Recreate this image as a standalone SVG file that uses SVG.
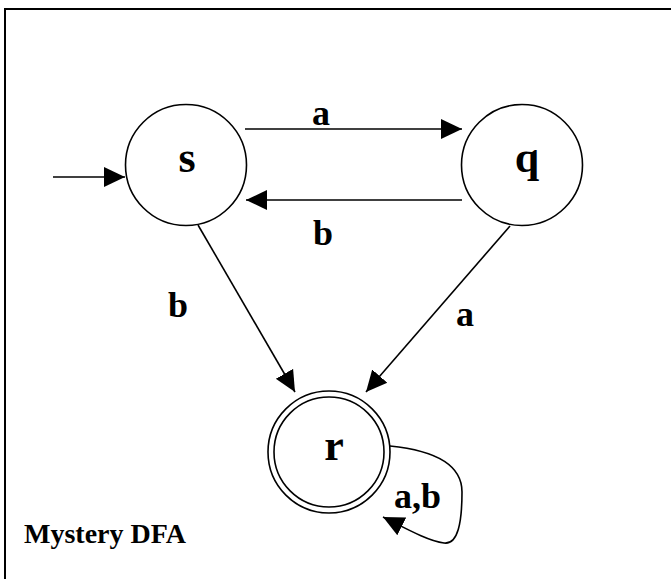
<svg xmlns="http://www.w3.org/2000/svg" width="671" height="579" viewBox="0 0 671 579">
<style>
.st{fill:#fff;stroke:#000;stroke-width:1.6}
.ln{fill:none;stroke:#000;stroke-width:1.6}
.lbl{font-family:"Liberation Serif","Times New Roman",serif;font-weight:bold;fill:#000}
.sl{font-size:44px;text-anchor:middle}
.el{font-size:36px;text-anchor:middle}
</style>
<defs>
<marker id="ah" markerUnits="userSpaceOnUse" markerWidth="22" markerHeight="22" viewBox="0 0 22 22" refX="21" refY="11" orient="auto">
<path d="M0,1 L21,11 L0,21 Z" fill="#000"/>
</marker>
</defs>
<rect x="5" y="9" width="700" height="620" fill="none" stroke="#000" stroke-width="2"/>
<g id="connectors">
<line class="ln" x1="53" y1="177" x2="125" y2="177" marker-end="url(#ah)"/>
<line class="ln" x1="245" y1="129" x2="462" y2="129" marker-end="url(#ah)"/>
<line class="ln" x1="462" y1="200" x2="246" y2="200" marker-end="url(#ah)"/>
<line class="ln" x1="198" y1="225" x2="295" y2="392" marker-end="url(#ah)"/>
<line class="ln" x1="510" y1="226" x2="366" y2="392" marker-end="url(#ah)"/>
<path class="ln" d="M390,446 C430,450 462,462 462,492 C462,522 458,545 444,543 C428,541 405,528 383,517" marker-end="url(#ah)"/>
</g>
<g id="node-s">
<circle class="st" cx="186" cy="165" r="60.5"/>
<text class="lbl sl" x="187" y="172">s</text>
</g>
<g id="node-q">
<circle class="st" cx="522" cy="165" r="60.5"/>
<text class="lbl sl" x="527" y="172">q</text>
</g>
<g id="node-r">
<circle class="st" cx="329" cy="452" r="61" stroke-width="2"/>
<circle class="st" cx="329" cy="452" r="55" stroke-width="2"/>
<text class="lbl sl" x="334" y="460">r</text>
</g>
<g id="labels">
<text class="lbl el" x="321" y="125">a</text>
<text class="lbl el" x="323" y="245">b</text>
<text class="lbl el" x="178" y="317">b</text>
<text class="lbl el" x="465" y="326">a</text>
<text class="lbl" font-size="36" x="394" y="508">a,b</text>
<text class="lbl" font-size="28" x="24" y="543">Mystery DFA</text>
</g>
</svg>
